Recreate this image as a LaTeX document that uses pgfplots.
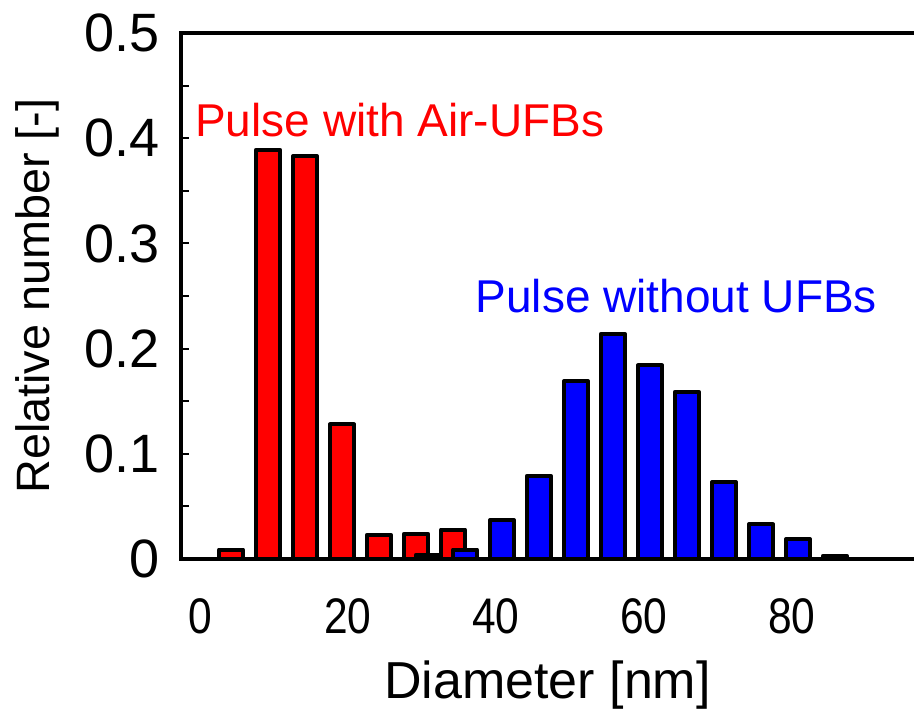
\documentclass[border=0pt]{standalone}
\usepackage{fontspec}
\setmainfont{Liberation Sans}
\usepackage{pgfplots}
\pgfplotsset{compat=1.18}

\definecolor{barred}{RGB}{255,0,0}
\definecolor{barblue}{RGB}{0,0,255}

\begin{document}
\begin{tikzpicture}
\useasboundingbox (-90.5pt,-77pt) rectangle (366.5pt,279.5pt);
\begin{axis}[
  at={(0,0)}, anchor=south west,
  scale only axis,
  width=366.5pt, height=263pt,
  xmin=-2.57, xmax=96.5,
  ymin=0, ymax=0.5,
  axis x line=box,
  axis y line=left,
  y axis line style={-},
  axis line style={line width=2pt, line cap=rect},
  xtick={0,20,40,60,80},
  xtick style={draw=none},
  ytick={0,0.1,0.2,0.3,0.4,0.5},
  minor y tick num=1,
  tick align=inside,
  major tick length=4pt,
  minor tick length=4pt,
  every tick/.style={line width=1pt, black},
  /pgf/number format/assume math mode=true,
  /pgf/number format/fixed,
  yticklabel style={font=\fontsize{27}{32}\selectfont, anchor=east, inner sep=0pt, xshift=-10.5pt},
  xticklabel style={font=\fontsize{25}{30}\selectfont, anchor=north, inner sep=0pt, yshift=-19.5pt},
  xticklabel={\scalebox{0.85}[1]{\pgfmathprintnumber{\tick}}},
  xlabel={Diameter [nm]},
  ylabel={Relative number [-]},
  xlabel style={font=\fontsize{26}{31}\selectfont, at={([yshift=-50.5pt]axis description cs:0.5,0)}, anchor=north, inner sep=0pt},
  ylabel style={font=\fontsize{23.4}{28}\selectfont, at={([xshift=-83pt]axis description cs:0,0.5)}, rotate=0, anchor=north, inner sep=0pt},
  clip=false,
]
% Pulse with Air-UFBs
\addplot[ybar, bar width=12pt, bar shift=-3pt, fill=barred, draw=black, line width=2pt, line join=round]
  coordinates {(5,0.009) (10,0.389) (15,0.383) (20,0.128) (25,0.023) (30,0.024) (35,0.028)};
% Pulse without UFBs
\addplot[ybar, bar width=12pt, bar shift=3pt, fill=barblue, draw=black, line width=2pt, line join=round]
  coordinates {(30,0.004) (35,0.009) (40,0.037) (45,0.079) (50,0.169) (55,0.214) (60,0.184) (65,0.159) (70,0.073) (75,0.033) (80,0.019) (85,0.003)};
\node[anchor=base west, inner sep=0pt, text=barred, font=\fontsize{23}{27}\selectfont] at (axis cs:-0.7,0.402) {Pulse with Air-UFBs};
\node[anchor=base west, inner sep=0pt, text=barblue, font=\fontsize{23}{27}\selectfont] at (axis cs:37.2,0.234) {Pulse without UFBs};
\end{axis}
\end{tikzpicture}
\end{document}
